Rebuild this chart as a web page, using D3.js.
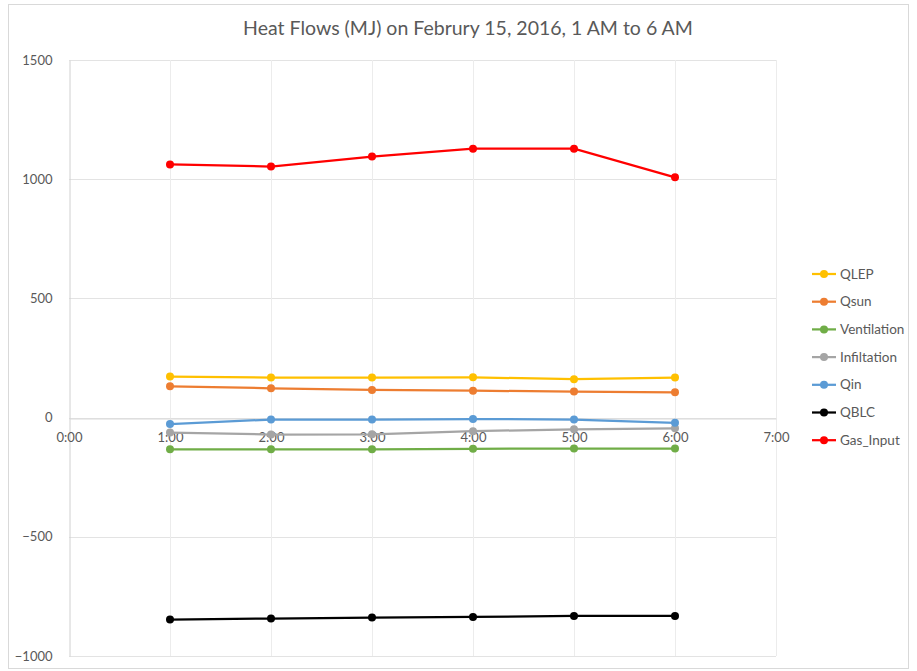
<!DOCTYPE html>
<html>
<head>
  <meta charset="utf-8">
  <title>Heat Flows</title>
  <script src="https://cdn.jsdelivr.net/npm/d3@7"></script>
  <style>
    body { margin: 0; background: #fff; }
    text { font-family: Lato, "Open Sans", sans-serif; fill: #595959; }
    .tick text { font-size: 13px; }
    .legend text { font-size: 13.5px; }
  </style>
</head>
<body>
<script>
  // categories (hours on x axis)
  var hourTicks = ["0:00", "1:00", "2:00", "3:00", "4:00", "5:00", "6:00", "7:00"];
  var hours = [1, 2, 3, 4, 5, 6];
  var yTicks = [-1000, -500, 0, 500, 1000, 1500];

  // series values
  var qlep = [172, 168, 168, 169, 161, 168];
  var qsun = [131, 123, 116, 113, 109, 106];
  var ventilation = [-133, -133, -133, -131, -130, -130];
  var infiltation = [-63, -71, -70, -57, -49, -45];
  var qin = [-27, -8, -8, -6, -8, -22];
  var qblc = [-847, -843, -839, -836, -832, -832];
  var gasInput = [1062, 1053, 1095, 1128, 1128, 1008];

  var seriesNames = ["QLEP", "Qsun", "Ventilation", "Infiltation", "Qin", "QBLC", "Gas_Input"];
  var seriesColors = ["#FFC000", "#ED7D31", "#70AD47", "#A5A5A5", "#5B9BD5", "#000000", "#FF0000"];
  var seriesValues = [qlep, qsun, ventilation, infiltation, qin, qblc, gasInput];

  var width = 917, height = 671;
  var plotLeft = 69, plotRight = 776, plotTop = 60, plotBottom = 656;

  var svg = d3.select("body").append("svg")
    .attr("width", width)
    .attr("height", height);

  // chart frame
  svg.append("rect")
    .attr("x", 8.5).attr("y", 4.5)
    .attr("width", 900).attr("height", 664)
    .attr("fill", "none")
    .attr("stroke", "#d9d9d9");

  var x = d3.scaleLinear().domain([0, 7]).range([plotLeft, plotRight]);
  var y = d3.scaleLinear().domain([-1000, 1500]).range([plotBottom, plotTop]);

  // horizontal gridlines
  svg.append("g")
    .selectAll("line")
    .data(yTicks)
    .enter().append("line")
    .attr("x1", plotLeft).attr("x2", plotRight)
    .attr("y1", function(d) { return Math.round(y(d)) + 0.5; })
    .attr("y2", function(d) { return Math.round(y(d)) + 0.5; })
    .attr("stroke", "#e3e3e3");

  // vertical gridlines
  svg.append("g")
    .selectAll("line")
    .data(d3.range(1, 8))
    .enter().append("line")
    .attr("y1", plotTop).attr("y2", plotBottom)
    .attr("x1", function(d) { return Math.round(x(d)) + 0.5; })
    .attr("x2", function(d) { return Math.round(x(d)) + 0.5; })
    .attr("stroke", "#ececec");

  // y axis
  var yAxis = d3.axisLeft(y).tickValues(yTicks).tickFormat(d3.format("d"))
    .tickSize(0).tickPadding(17);
  svg.append("g")
    .attr("class", "axis yAxis")
    .attr("transform", "translate(" + (plotLeft + 0.5) + ",0)")
    .call(yAxis)
    .call(function(g) { g.select(".domain").attr("stroke", "#d0d0d0"); });

  // x axis at zero
  var xAxis = d3.axisBottom(x)
    .tickValues(d3.range(0, 8))
    .tickFormat(function(d) { return hourTicks[d]; })
    .tickSize(0).tickPadding(14);
  svg.append("g")
    .attr("class", "axis xAxis")
    .attr("transform", "translate(0," + (Math.round(y(0)) + 0.5) + ")")
    .call(xAxis)
    .call(function(g) { g.select(".domain").attr("stroke", "#d9d9d9"); });

  // series
  var line = d3.line()
    .x(function(d, i) { return x(hours[i]); })
    .y(function(d) { return y(d); });

  seriesValues.forEach(function(vals, k) {
    var g = svg.append("g").attr("class", "series");
    g.append("path")
      .datum(vals)
      .attr("d", line)
      .attr("fill", "none")
      .attr("stroke", seriesColors[k])
      .attr("stroke-width", 2.25);
    g.selectAll("circle")
      .data(vals)
      .enter().append("circle")
      .attr("cx", function(d, i) { return x(hours[i]); })
      .attr("cy", function(d) { return y(d); })
      .attr("r", 4)
      .attr("fill", seriesColors[k]);
  });

  // title
  svg.append("text")
    .attr("x", 468)
    .attr("y", 35)
    .attr("text-anchor", "middle")
    .style("font-size", "19.5px")
    .text("Heat Flows (MJ) on Februry 15, 2016, 1 AM to 6 AM");

  // legend
  var legend = svg.append("g").attr("class", "legend");
  seriesNames.forEach(function(name, k) {
    var ly = 274 + k * 27.7;
    legend.append("line")
      .attr("x1", 812).attr("x2", 836)
      .attr("y1", ly).attr("y2", ly)
      .attr("stroke", seriesColors[k])
      .attr("stroke-width", 2.25);
    legend.append("circle")
      .attr("cx", 824).attr("cy", ly).attr("r", 4)
      .attr("fill", seriesColors[k]);
    legend.append("text")
      .attr("x", 840).attr("y", ly + 4.5)
      .text(name);
  });
</script>
</body>
</html>
